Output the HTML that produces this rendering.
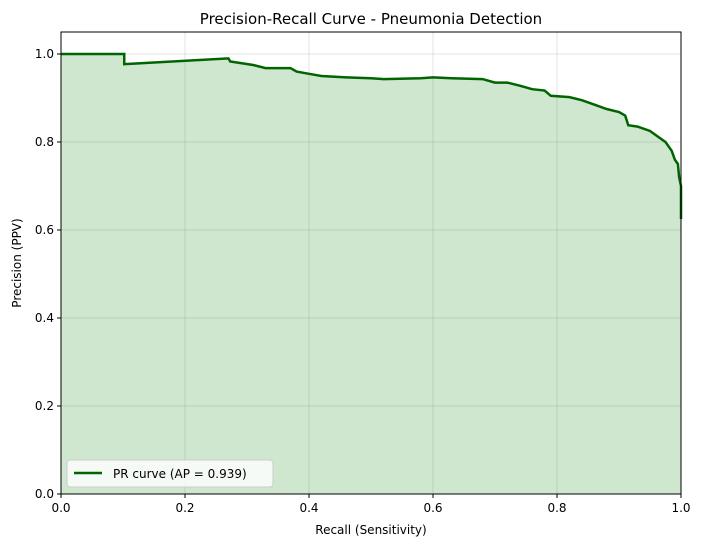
<!DOCTYPE html>
<html><head><meta charset="utf-8"><style>
body{margin:0;background:#fff;font-family:"Liberation Sans","DejaVu Sans",sans-serif;}
svg text{font-family:"DejaVu Sans","Liberation Sans",sans-serif;}
</style></head><body>
<svg id="chart" width="702" height="547" xmlns="http://www.w3.org/2000/svg">
<rect width="702" height="547" fill="#fff"/>
<text x="371" y="24" font-size="15" text-anchor="middle" fill="#000">Precision-Recall Curve - Pneumonia Detection</text>
<g id="grid"></g>
<path id="fill" fill="#008000" fill-opacity="0.19" stroke="none"/>
<path id="line" fill="none" stroke="#006400" stroke-width="2.5"/>
<rect x="61" y="32" width="620" height="462" fill="none" stroke="#000" stroke-width="1"/>
<g id="ticks"></g>
<text x="371" y="534" font-size="12" text-anchor="middle">Recall (Sensitivity)</text>
<text transform="translate(21,263) rotate(-90)" font-size="12" text-anchor="middle">Precision (PPV)</text>
<g>
<rect x="67" y="460" width="206" height="27" rx="3" fill="#fff" fill-opacity="0.8" stroke="#ccc"/>
<line x1="74" y1="473" x2="102" y2="473" stroke="#006400" stroke-width="2.5"/>
<text x="113" y="478" font-size="12">PR curve (AP = 0.939)</text>
</g>
</svg>
<script>
const recall=[0,0.102,0.102,0.27,0.273,0.31,0.33,0.37,0.38,0.40,0.42,0.46,0.50,0.52,0.58,0.60,0.63,0.68,0.70,0.72,0.74,0.76,0.78,0.79,0.82,0.84,0.86,0.88,0.90,0.91,0.915,0.93,0.95,0.965,0.975,0.985,0.99,0.995,0.997,1.0,1.0];
const precision=[1.0,1.0,0.977,0.99,0.983,0.975,0.968,0.968,0.96,0.955,0.95,0.947,0.945,0.943,0.945,0.947,0.945,0.943,0.935,0.935,0.928,0.92,0.917,0.905,0.902,0.895,0.885,0.875,0.868,0.86,0.838,0.835,0.825,0.81,0.80,0.78,0.76,0.75,0.72,0.70,0.625];
const xTicks=[0,0.2,0.4,0.6,0.8,1.0];
const yTicks=[0,0.2,0.4,0.6,0.8,1.0];
const X=v=>61+v*620, Y=v=>494-v*440;
const NS="http://www.w3.org/2000/svg";
const grid=document.getElementById('grid'), ticks=document.getElementById('ticks');
function mk(tag,attrs,parent){const e=document.createElementNS(NS,tag);for(const k in attrs)e.setAttribute(k,attrs[k]);parent.appendChild(e);return e;}
xTicks.forEach(t=>{
 const g=mk('line',{x1:X(t),x2:X(t),y1:32,y2:494,stroke:'#b0b0b0','stroke-opacity':0.35},grid);
 
 
 mk('line',{x1:X(t),x2:X(t),y1:494,y2:498,stroke:'#000'},ticks);
 const tx=mk('text',{x:X(t),y:512,'font-size':12,'text-anchor':'middle'},ticks);tx.textContent=t.toFixed(1);
 
 
});
yTicks.forEach(t=>{
 const g=mk('line',{x1:61,x2:681,y1:Y(t),y2:Y(t),stroke:'#b0b0b0','stroke-opacity':0.35},grid);
 
 
 mk('line',{x1:57,x2:61,y1:Y(t),y2:Y(t),stroke:'#000'},ticks);
 const tx=mk('text',{x:54,y:Y(t)+4,'font-size':12,'text-anchor':'end'},ticks);tx.textContent=t.toFixed(1);
 
 
});
let d='M'+X(recall[0])+' '+Y(precision[0]);
for(let i=1;i<recall.length;i++){d+=' L'+X(recall[i])+' '+Y(precision[i]);}
document.getElementById('line').setAttribute('d',d);
document.getElementById('fill').setAttribute('d',d+' L'+X(recall[recall.length-1])+' '+Y(0)+' L'+X(0)+' '+Y(0)+' Z');
</script>
</body></html>
